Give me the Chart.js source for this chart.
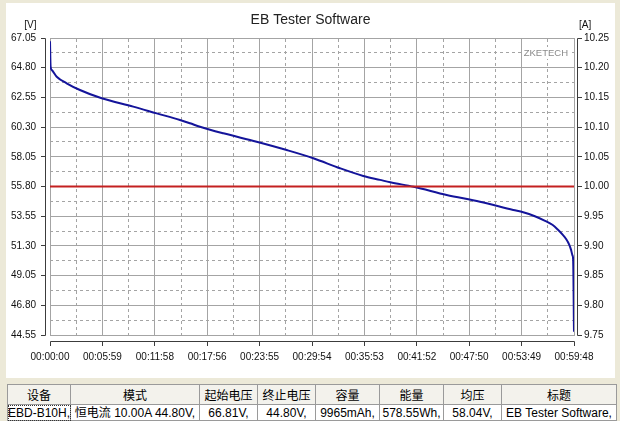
<!DOCTYPE html>
<html><head><meta charset="utf-8">
<script src="https://cdn.jsdelivr.net/npm/chart.js@4"></script>
<style>
html,body{margin:0;padding:0;}
body{width:620px;height:421px;background:#ECE9D8;position:relative;overflow:hidden;font-family:"Liberation Sans",Arial,"Noto Sans CJK SC",sans-serif;}
#panel{position:absolute;left:6px;top:3px;width:609px;height:375px;background:#fff;}
#panel canvas{display:block;}
#info{position:absolute;left:7px;top:384px;border-collapse:collapse;table-layout:fixed;width:609px;font-size:12px;line-height:14px;border:1px solid #555;}
#info th,#info td{border:1px solid #9a9a9a;padding:0;text-align:center;white-space:nowrap;overflow:hidden;color:#000;}
#info th{height:19px;background:#F3F2EC;font-weight:normal;font-family:"Noto Sans CJK SC",sans-serif;}
#info td{height:15px;background:#fff;font-family:"Liberation Sans","Noto Sans CJK SC",sans-serif;}
#info td.focus{text-align:left;outline:1px dotted #333;outline-offset:-1px;}
</style></head>
<body>
<div id="panel"><canvas id="c" width="609" height="375"></canvas></div>
<table id="info"><colgroup id="cg"></colgroup><tr id="hr"></tr><tr id="dr"></tr></table>
<script>
// ---- data ----
const timeSec = [0, 4, 12, 46, 114, 205, 354, 570, 731, 890, 959, 1027, 1187, 1415, 1621, 1803, 1986, 2145, 2260, 2330, 2490, 2716, 2944, 3172, 3240, 3320, 3390, 3440, 3480, 3510, 3535, 3555, 3568, 3577, 3582, 3588];
const voltage = [66.81, 64.90, 64.63, 64.12, 63.62, 63.11, 62.48, 61.85, 61.34, 60.84, 60.59, 60.33, 59.83, 59.19, 58.56, 57.94, 57.18, 56.60, 56.30, 56.12, 55.78, 55.16, 54.65, 54.02, 53.85, 53.55, 53.20, 52.90, 52.50, 52.15, 51.80, 51.40, 51.00, 50.60, 50.30, 44.80];
const currentTime = [0, 3588];
const currentValue = [10.00, 10.00];

const xTickValues = [0, 359, 718, 1076, 1435, 1794, 2153, 2512, 2870, 3229, 3588];
const xTickLabels = ['00:00:00','00:05:59','00:11:58','00:17:56','00:23:55','00:29:54','00:35:53','00:41:52','00:47:50','00:53:49','00:59:48'];
const yTickValues = [44.55, 46.80, 49.05, 51.30, 53.55, 55.80, 58.05, 60.30, 62.55, 64.80, 67.05];
const yTickLabels = ['44.55','46.80','49.05','51.30','53.55','55.80','58.05','60.30','62.55','64.80','67.05'];
const y2TickValues = [9.75, 9.80, 9.85, 9.90, 9.95, 10.00, 10.05, 10.10, 10.15, 10.20, 10.25];
const y2TickLabels = ['9.75','9.80','9.85','9.90','9.95','10.00','10.05','10.10','10.15','10.20','10.25'];

const tableHeaders = ['设备','模式','起始电压','终止电压','容量','能量','均压','标题'];
const tableValues = ['EBD-B10H,','恒电流  10.00A  44.80V,','66.81V,','44.80V,','9965mAh,','578.55Wh,','58.04V,','EB Tester Software,'];
const tableColWidths = [63,129,58,58,64,64,58,115];

// ---- table ----
const cg = document.getElementById('cg'), hr = document.getElementById('hr'), dr = document.getElementById('dr');
tableColWidths.forEach(w => { const c = document.createElement('col'); c.style.width = w + 'px'; cg.appendChild(c); });
tableHeaders.forEach(h => { const th = document.createElement('th'); th.textContent = h; hr.appendChild(th); });
tableValues.forEach((v, i) => { const td = document.createElement('td'); td.textContent = v; if (i === 0) td.className = 'focus'; dr.appendChild(td); });

// ---- chart ----
const FONT = '"Liberation Sans", Arial, sans-serif';
Chart.defaults.font.family = FONT;
Chart.defaults.font.size = 10;
Chart.defaults.color = '#111';

const midpoints = arr => arr.slice(0, -1).map((v, i) => (v + arr[i + 1]) / 2);
const GRID = '#a4a4a4';

const offsetAxes = {
  id: 'offsetAxes',
  afterDraw(chart) {
    const {ctx, chartArea: a, scales} = chart;
    const al = p => Math.round(p - 0.5) + 0.5;
    ctx.save();
    ctx.strokeStyle = '#3c3c3c';
    ctx.lineWidth = 1;
    ctx.beginPath();
    // left
    const lx = al(a.left) - 5;
    ctx.moveTo(lx, al(a.top)); ctx.lineTo(lx, al(a.bottom));
    scales.y.ticks.forEach(t => { const p = al(scales.y.getPixelForValue(t.value)); ctx.moveTo(lx - 4.5, p); ctx.lineTo(lx, p); });
    // right
    const rx = al(a.right) + 3;
    ctx.moveTo(rx, al(a.top)); ctx.lineTo(rx, al(a.bottom));
    scales.y2.ticks.forEach(t => { const p = al(scales.y2.getPixelForValue(t.value)); ctx.moveTo(rx, p); ctx.lineTo(rx + 4.5, p); });
    // bottom
    const by = al(a.bottom) + 6;
    ctx.moveTo(al(a.left), by); ctx.lineTo(al(a.right), by);
    scales.x.ticks.forEach(t => { const p = al(scales.x.getPixelForValue(t.value)); ctx.moveTo(p, by); ctx.lineTo(p, by + 4.5); });
    ctx.stroke();
    // unit labels
    ctx.fillStyle = '#111';
    ctx.font = '10px ' + FONT;
    ctx.textBaseline = 'middle';
    ctx.textAlign = 'right';
    ctx.fillText('[V]', 30.5, 22);
    ctx.textAlign = 'left';
    ctx.fillText('[A]', 573, 22);
    ctx.restore();
  },
  beforeDatasetsDraw(chart) {
    const {ctx, chartArea: a} = chart;
    ctx.save();
    ctx.font = '9.5px ' + FONT;
    const txt = 'ZKETECH';
    const w = ctx.measureText(txt).width;
    const xr = a.right - 6, yc = a.top + 15;
    ctx.fillStyle = '#fff';
    ctx.fillRect(xr - w - 1, yc - 6, w + 2, 12);
    ctx.fillStyle = '#8a8a8a';
    ctx.textAlign = 'right';
    ctx.textBaseline = 'middle';
    ctx.fillText(txt, xr, yc);
    ctx.restore();
  }
};

new Chart(document.getElementById('c'), {
  type: 'line',
  data: {
    datasets: [
      {
        label: 'Current',
        data: currentTime.map((t, i) => ({x: t, y: currentValue[i]})),
        yAxisID: 'y2',
        borderColor: '#c42020',
        borderWidth: 2,
        pointRadius: 0,
        order: 0
      },
      {
        label: 'Voltage',
        data: timeSec.map((t, i) => ({x: t, y: voltage[i]})),
        yAxisID: 'y',
        borderColor: '#14149a',
        borderWidth: 2,
        pointRadius: 0,
        cubicInterpolationMode: 'monotone',
        order: 1
      }
    ]
  },
  options: {
    responsive: false,
    animation: false,
    events: [],
    layout: {padding: 0},
    plugins: {
      legend: {display: false},
      tooltip: {enabled: false},
      title: {
        display: true,
        text: 'EB Tester Software',
        color: '#222',
        font: {family: FONT, size: 14, weight: 'normal'},
        padding: {top: 9, bottom: 9.2}
      }
    },
    scales: {
      x: {
        type: 'linear', position: 'bottom', min: 0, max: 3588,
        afterBuildTicks: s => { s.ticks = xTickValues.map(v => ({value: v})); },
        afterFit: s => { s.height = 43; },
        ticks: {autoSkip: false, maxRotation: 0, padding: 16, callback: (v, i) => xTickLabels[i]},
        grid: {color: GRID, lineWidth: 1, drawTicks: false},
        border: {display: true, color: GRID}
      },
      xMinor: {
        type: 'linear', position: 'top', min: 0, max: 3588,
        afterBuildTicks: s => { s.ticks = midpoints(xTickValues).map(v => ({value: v})); },
        afterFit: s => { s.height = 0; },
        ticks: {display: false},
        grid: {color: GRID, lineWidth: 1, drawTicks: false},
        border: {display: true, color: GRID, dash: [3, 3]}
      },
      y: {
        type: 'linear', position: 'left', min: 44.55, max: 67.05,
        afterBuildTicks: s => { s.ticks = yTickValues.map(v => ({value: v})); },
        afterFit: s => { s.width = 44; },
        ticks: {padding: 14, callback: (v, i) => yTickLabels[i]},
        grid: {color: GRID, lineWidth: 1, drawTicks: false},
        border: {display: true, color: GRID}
      },
      yMinor: {
        type: 'linear', position: 'left', min: 44.55, max: 67.05,
        afterBuildTicks: s => { s.ticks = midpoints(yTickValues).map(v => ({value: v})); },
        afterFit: s => { s.width = 0; },
        ticks: {display: false},
        grid: {color: GRID, lineWidth: 1, drawTicks: false},
        border: {display: false, dash: [3, 3]}
      },
      y2: {
        type: 'linear', position: 'right', min: 9.75, max: 10.25,
        afterBuildTicks: s => { s.ticks = y2TickValues.map(v => ({value: v})); },
        afterFit: s => { s.width = 41; },
        ticks: {padding: 10, callback: (v, i) => y2TickLabels[i]},
        grid: {drawOnChartArea: false, drawTicks: false},
        border: {display: true, color: GRID}
      }
    }
  },
  plugins: [offsetAxes]
});
</script>
</body></html>
